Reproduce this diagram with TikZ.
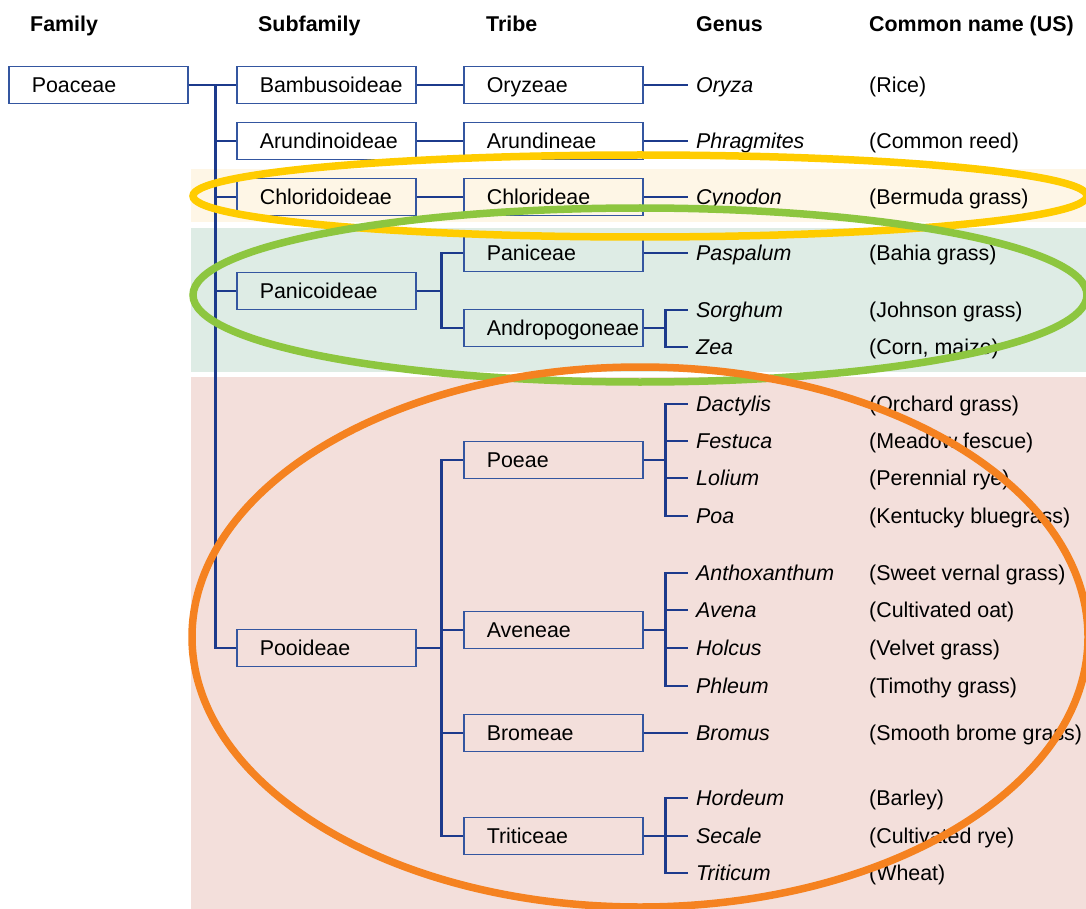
\documentclass[tikz,border=0pt]{standalone}
\usepackage{fontspec}
\setmainfont{Liberation Sans}
\usetikzlibrary{positioning,calc}
\definecolor{boxblue}{RGB}{52,86,160}
\definecolor{linkblue}{RGB}{28,58,140}
\definecolor{bandcream}{RGB}{254,246,230}
\definecolor{bandgreen}{RGB}{222,236,229}
\definecolor{bandpink}{RGB}{243,223,219}
\definecolor{ringgold}{RGB}{255,204,0}
\definecolor{ringgreen}{RGB}{141,198,63}
\definecolor{ringorange}{RGB}{245,130,32}
\newcommand{\tfont}{\fontsize{21.4}{25}\selectfont}
\tikzset{font=\tfont}

\begin{document}
\begin{tikzpicture}[x=1pt, y=-1pt]
	\useasboundingbox (0,0) rectangle (1086,909);
	\tikzstyle{every node}=[text height=15pt, text depth=0pt]
	\tikzstyle{taxon}=[draw=boxblue, line width=1.6pt, anchor=west, minimum height=37pt, text width=175pt, inner xsep=2pt, inner ysep=0pt, align=left, execute at begin node={\hyphenpenalty=10000\leavevmode\hspace*{21pt}}]
	\tikzstyle{genus}=[anchor=west, inner xsep=8pt, inner ysep=0pt, font=\tfont\itshape]
	\tikzstyle{common}=[anchor=west, inner sep=0pt]
	\tikzstyle{head}=[anchor=west, inner sep=0pt, font=\tfont\bfseries]
	\tikzstyle{conn}=[draw=linkblue, line width=2.8pt]
	\tikzstyle{ring}=[line width=7.5pt]

	\fill[bandcream] (191,169) rectangle (1086,222);
	\fill[bandgreen] (191,228) rectangle (1086,372);
	\fill[bandpink] (191,377) rectangle (1086,909);

	\node[head] (hfam) at (30,24) {Family};
	\node[head] (hsub) at (258,24) {Subfamily};
	\node[head] (htri) at (486,24) {Tribe};
	\node[head] (hgen) at (696,24) {Genus};
	\node[head] (hcom) at (869,24) {Common name (US)};

	\node[taxon] (poa) at (8,85) {Poaceae};

	\node[taxon] (bam) at (236,85) {Bambusoideae};
	\node[taxon] (aru) at (236,141) {Arundinoideae};
	\node[taxon] (chl) at (236,197) {Chloridoideae};
	\node[taxon] (pan) at (236,291) {Panicoideae};
	\node[taxon] (poo) at (236,648) {Pooideae};

	\node[taxon] (ory) at (463,85) {Oryzeae};
	\node[taxon] (arn) at (463,141) {Arundineae};
	\node[taxon] (chd) at (463,197) {Chlorideae};
	\node[taxon] (pnc) at (463,253) {Paniceae};
	\node[taxon] (and) at (463,328) {Andropogoneae};
	\node[taxon] (poe) at (463,460) {Poeae};
	\node[taxon] (ave) at (463,630) {Aveneae};
	\node[taxon] (bro) at (463,733) {Bromeae};
	\node[taxon] (tri) at (463,836) {Triticeae};

	\node[genus] (g1) at (688,85) {Oryza};
	\node[genus] (g2) at (688,141) {Phragmites};
	\node[genus] (g3) at (688,197) {Cynodon};
	\node[genus] (g4) at (688,253) {Paspalum};
	\node[genus] (g5) at (688,310) {Sorghum};
	\node[genus] (g6) at (688,347) {Zea};
	\node[genus] (g7) at (688,404) {Dactylis};
	\node[genus] (g8) at (688,441) {Festuca};
	\node[genus] (g9) at (688,478) {Lolium};
	\node[genus] (g10) at (688,516) {Poa};
	\node[genus] (g11) at (688,573) {Anthoxanthum};
	\node[genus] (g12) at (688,610) {Avena};
	\node[genus] (g13) at (688,648) {Holcus};
	\node[genus] (g14) at (688,686) {Phleum};
	\node[genus] (g15) at (688,733) {Bromus};
	\node[genus] (g16) at (688,798) {Hordeum};
	\node[genus] (g17) at (688,836) {Secale};
	\node[genus] (g18) at (688,873) {Triticum};

	\node[common] (c1) at (869,85) {(Rice)};
	\node[common] (c2) at (869,141) {(Common reed)};
	\node[common] (c3) at (869,197) {(Bermuda grass)};
	\node[common] (c4) at (869,253) {(Bahia grass)};
	\node[common] (c5) at (869,310) {(Johnson grass)};
	\node[common] (c6) at (869,347) {(Corn, maize)};
	\node[common] (c7) at (869,404) {(Orchard grass)};
	\node[common] (c8) at (869,441) {(Meadow fescue)};
	\node[common] (c9) at (869,478) {(Perennial rye)};
	\node[common] (c10) at (869,516) {(Kentucky bluegrass)};
	\node[common] (c11) at (869,573) {(Sweet vernal grass)};
	\node[common] (c12) at (869,610) {(Cultivated oat)};
	\node[common] (c13) at (869,648) {(Velvet grass)};
	\node[common] (c14) at (869,686) {(Timothy grass)};
	\node[common] (c15) at (869,733) {(Smooth brome grass)};
	\node[common] (c16) at (869,798) {(Barley)};
	\node[common] (c17) at (869,836) {(Cultivated rye)};
	\node[common] (c18) at (869,873) {(Wheat)};

	\draw[conn] (poa.east) -- ++(27,0) |- (bam.west);
	\draw[conn] (poa.east) -- ++(27,0) |- (aru.west);
	\draw[conn] (poa.east) -- ++(27,0) |- (chl.west);
	\draw[conn] (poa.east) -- ++(27,0) |- (pan.west);
	\draw[conn] (poa.east) -- ++(27,0) |- (poo.west);

	\draw[conn] (bam.east) -- (ory.west);
	\draw[conn] (aru.east) -- (arn.west);
	\draw[conn] (chl.east) -- (chd.west);
	\draw[conn] (pan.east) -- ++(25,0) |- (pnc.west);
	\draw[conn] (pan.east) -- ++(25,0) |- (and.west);
	\draw[conn] (poo.east) -- ++(25,0) |- (poe.west);
	\draw[conn] (poo.east) -- ++(25,0) |- (ave.west);
	\draw[conn] (poo.east) -- ++(25,0) |- (bro.west);
	\draw[conn] (poo.east) -- ++(25,0) |- (tri.west);

	\draw[conn] (ory.east) -- (g1.west);
	\draw[conn] (arn.east) -- (g2.west);
	\draw[conn] (chd.east) -- (g3.west);
	\draw[conn] (pnc.east) -- (g4.west);
	\draw[conn] (and.east) -- ++(22,0) |- (g5.west);
	\draw[conn] (and.east) -- ++(22,0) |- (g6.west);
	\draw[conn] (poe.east) -- ++(22,0) |- (g7.west);
	\draw[conn] (poe.east) -- ++(22,0) |- (g8.west);
	\draw[conn] (poe.east) -- ++(22,0) |- (g9.west);
	\draw[conn] (poe.east) -- ++(22,0) |- (g10.west);
	\draw[conn] (ave.east) -- ++(22,0) |- (g11.west);
	\draw[conn] (ave.east) -- ++(22,0) |- (g12.west);
	\draw[conn] (ave.east) -- ++(22,0) |- (g13.west);
	\draw[conn] (ave.east) -- ++(22,0) |- (g14.west);
	\draw[conn] (bro.east) -- (g15.west);
	\draw[conn] (tri.east) -- ++(22,0) |- (g16.west);
	\draw[conn] (tri.east) -- ++(22,0) |- (g17.west);
	\draw[conn] (tri.east) -- ++(22,0) |- (g18.west);

	\draw[ring, ringgold] (640,196) ellipse [x radius=447pt, y radius=41pt];
	\draw[ring, ringgreen] (640,295) ellipse [x radius=447pt, y radius=87pt];
	\draw[ring, ringorange] (640,637) ellipse [x radius=448pt, y radius=270pt];
\end{tikzpicture}
\end{document}
